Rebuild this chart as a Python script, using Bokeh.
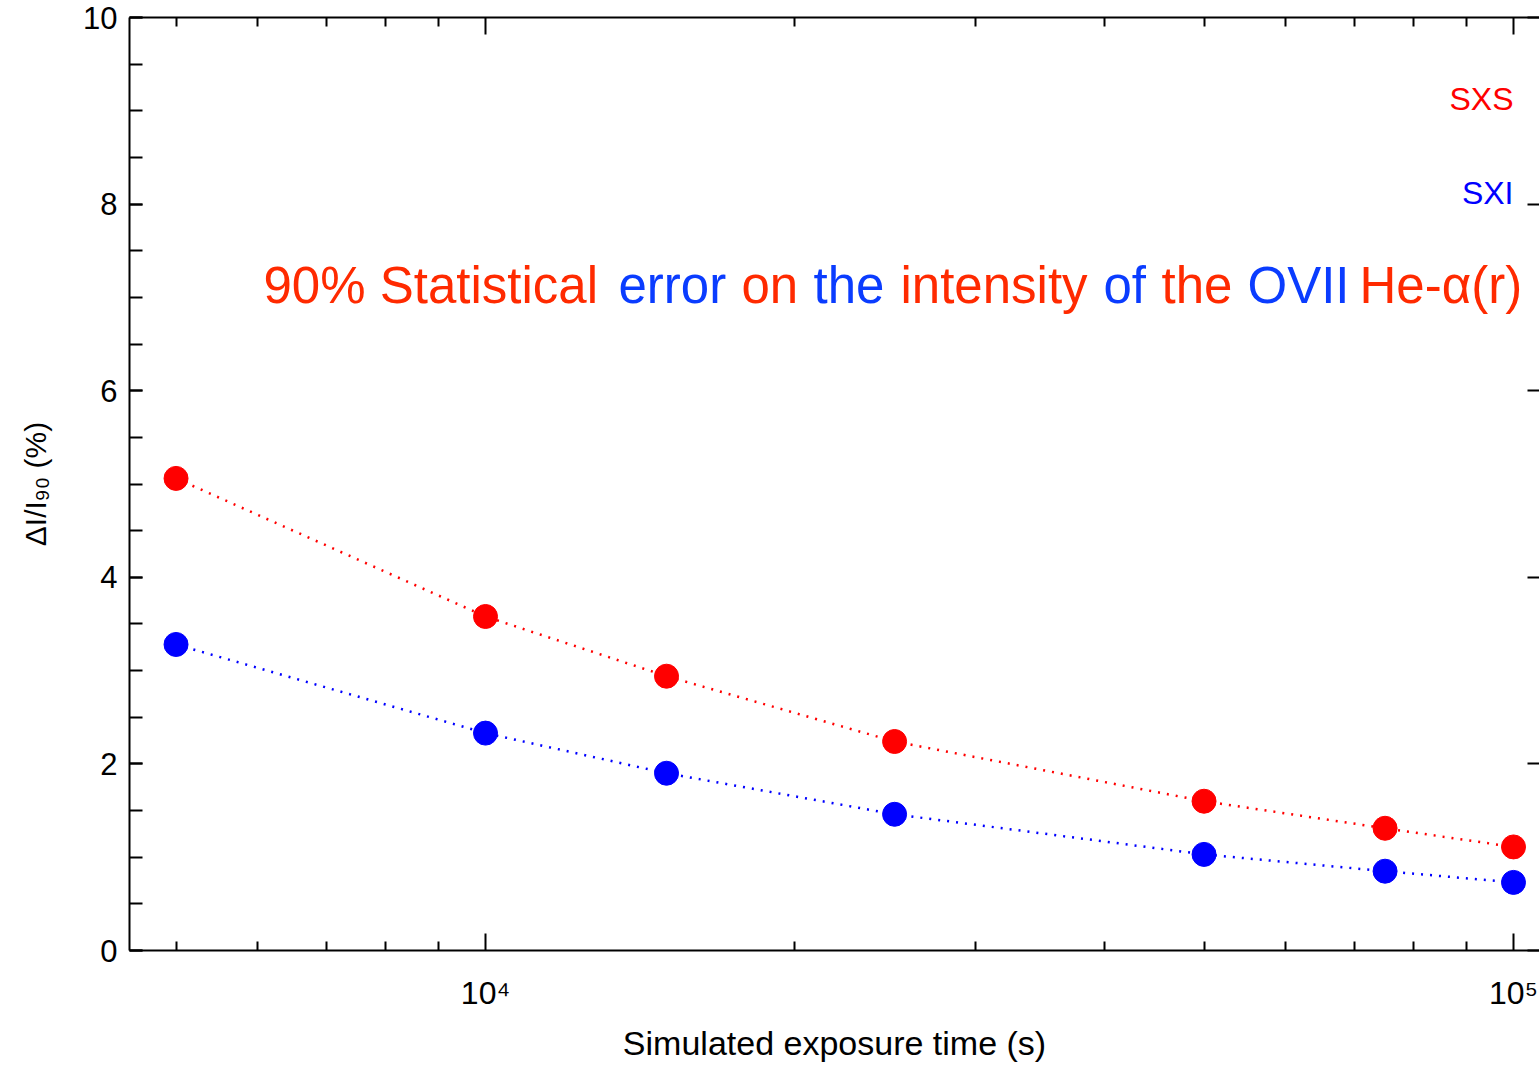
from bokeh.plotting import figure
from bokeh.models import (Range1d, FixedTicker, LogAxis, LinearAxis, Label,
                          CustomJSTickFormatter, ColumnDataSource)
from bokeh.embed import file_html
from bokeh.resources import INLINE

# ---------------- data ----------------
exposure_s = [5000, 10000, 15000, 25000, 50000, 75000, 100000]
sxs_err = [5.06, 3.58, 2.94, 2.24, 1.60, 1.31, 1.11]
sxi_err = [3.28, 2.33, 1.90, 1.46, 1.03, 0.85, 0.73]

x_major = [1e4, 1e5]
x_minor = [5000, 6000, 7000, 8000, 9000,
           20000, 30000, 40000, 50000, 60000, 70000, 80000, 90000]
y_major = [0, 2, 4, 6, 8, 10]
y_minor = [0.5 * i for i in range(21)]

title_words = ["90% Statistical", "error", "on", "the", "intensity",
               "of", "the", "OVII", "He-\u03b1(r)"]
title_colors = ["#ff2a00", "#0a3cff", "#ff2a00", "#0a3cff", "#ff2a00",
                "#0a3cff", "#ff2a00", "#0a3cff", "#ff2a00"]

# ---------------- layout ----------------
W, H = 1539, 1065
FL, FT, FB = 129, 17, 950      # frame left / top / bottom pixels
FR = W                          # frame right pixel
X4, X5 = 485, 1513              # pixel of 1e4 and 1e5


def px_to_x(px):
    return 10 ** (4 + (px - X4) / (X5 - X4))


def px_to_y(py):
    return 10.0 * (FB - py) / (FB - FT)


FONT = "Liberation Sans"

p = figure(width=W, height=H, x_axis_type="log",
           x_range=Range1d(px_to_x(FL), px_to_x(FR)), y_range=Range1d(0, 10),
           output_backend="svg", toolbar_location=None,
           min_border_left=FL, min_border_right=0, min_border_top=FT,
           min_border_bottom=H - FB)
p.outline_line_color = None
p.grid.visible = False
p.background_fill_color = "white"
p.border_fill_color = "white"

sup_fmt = CustomJSTickFormatter(code="""
const e = Math.round(Math.log10(tick));
const sup = {0:'\u2070',1:'\u00b9',2:'\u00b2',3:'\u00b3',4:'\u2074',5:'\u2075',6:'\u2076'};
return '10' + sup[e];
""")
blank_fmt = CustomJSTickFormatter(code="return ' ';")

xa = p.xaxis[0]
xa.ticker = FixedTicker(ticks=x_major, minor_ticks=x_minor)
xa.formatter = sup_fmt
xa.axis_line_width = 2
xa.major_tick_line_width = 2
xa.minor_tick_line_width = 2
xa.major_tick_in = 17
xa.major_tick_out = 0
xa.minor_tick_in = 9
xa.minor_tick_out = 0
xa.major_label_text_font = FONT
xa.major_label_text_font_size = "32px"
xa.major_label_text_color = "black"
xa.major_label_standoff = 24
xa.axis_label = "Simulated exposure time (s)"
xa.axis_label_text_font = FONT
xa.axis_label_text_font_style = "normal"
xa.axis_label_text_font_size = "34px"
xa.axis_label_text_color = "black"
xa.axis_label_standoff = 10

ya = p.yaxis[0]
ya.ticker = FixedTicker(ticks=y_major, minor_ticks=y_minor)
ya.axis_line_width = 2
ya.major_tick_line_width = 2
ya.minor_tick_line_width = 2
ya.major_tick_in = 13
ya.major_tick_out = 0
ya.minor_tick_in = 13
ya.minor_tick_out = 0
ya.major_label_text_font = FONT
ya.major_label_text_font_size = "31px"
ya.major_label_text_color = "black"
ya.major_label_standoff = 12
ya.axis_label = "\u0394I/I\u2089\u2080 (%)"
ya.axis_label_text_font = FONT
ya.axis_label_text_font_style = "normal"
ya.axis_label_text_font_size = "30px"
ya.axis_label_text_color = "black"
ya.axis_label_standoff = 28

top = LogAxis(ticker=FixedTicker(ticks=x_major, minor_ticks=x_minor),
              formatter=blank_fmt,
              axis_line_width=2, major_tick_line_width=2, minor_tick_line_width=2,
              major_tick_in=17, major_tick_out=0, minor_tick_in=9, minor_tick_out=0,
              major_label_text_font_size="2px", major_label_text_alpha=0,
              major_label_standoff=0)
p.add_layout(top, "above")

right = LinearAxis(ticker=FixedTicker(ticks=y_major, minor_ticks=[]),
                   formatter=blank_fmt,
                   axis_line_color=None, major_tick_line_width=2,
                   major_tick_in=12, major_tick_out=0, minor_tick_in=0, minor_tick_out=0,
                   major_label_text_font_size="2px", major_label_text_alpha=0,
                   major_label_standoff=0)
p.add_layout(right, "right")

src = ColumnDataSource(dict(x=exposure_s, sxs=sxs_err, sxi=sxi_err))

p.line("x", "sxs", source=src, line_color="red", line_width=2.5, line_dash="2 7")
p.line("x", "sxi", source=src, line_color="blue", line_width=2.5, line_dash="2 7")
p.scatter("x", "sxs", source=src, marker="circle", size=24,
          fill_color="red", line_color="red")
p.scatter("x", "sxi", source=src, marker="circle", size=24,
          fill_color="blue", line_color="blue")

# series labels (baseline pixel rows)
SER_FS = 32
p.add_layout(Label(x=1e5, y=px_to_y(110 - 0.37 * SER_FS), text="SXS", text_color="red",
                   text_font=FONT, text_font_size=f"{SER_FS}px", text_align="right",
                   text_baseline="alphabetic"))
p.add_layout(Label(x=1e5, y=px_to_y(204 - 0.37 * SER_FS), text="SXI", text_color="blue",
                   text_font=FONT, text_font_size=f"{SER_FS}px", text_align="right",
                   text_baseline="alphabetic"))

# multicoloured title line inside the plot
TFS = 51
word_px = [263, 618, 741, 813, 900, 1103, 1161, 1247, 1359]
for w, c, px in zip(title_words, title_colors, word_px):
    p.add_layout(Label(x=px_to_x(px), y=px_to_y(304 - 0.37 * TFS), text=w, text_color=c,
                       text_font=FONT, text_font_size=f"{TFS}px",
                       text_align="left", text_baseline="alphabetic"))

open("out.html", "w").write(file_html(p, INLINE))
